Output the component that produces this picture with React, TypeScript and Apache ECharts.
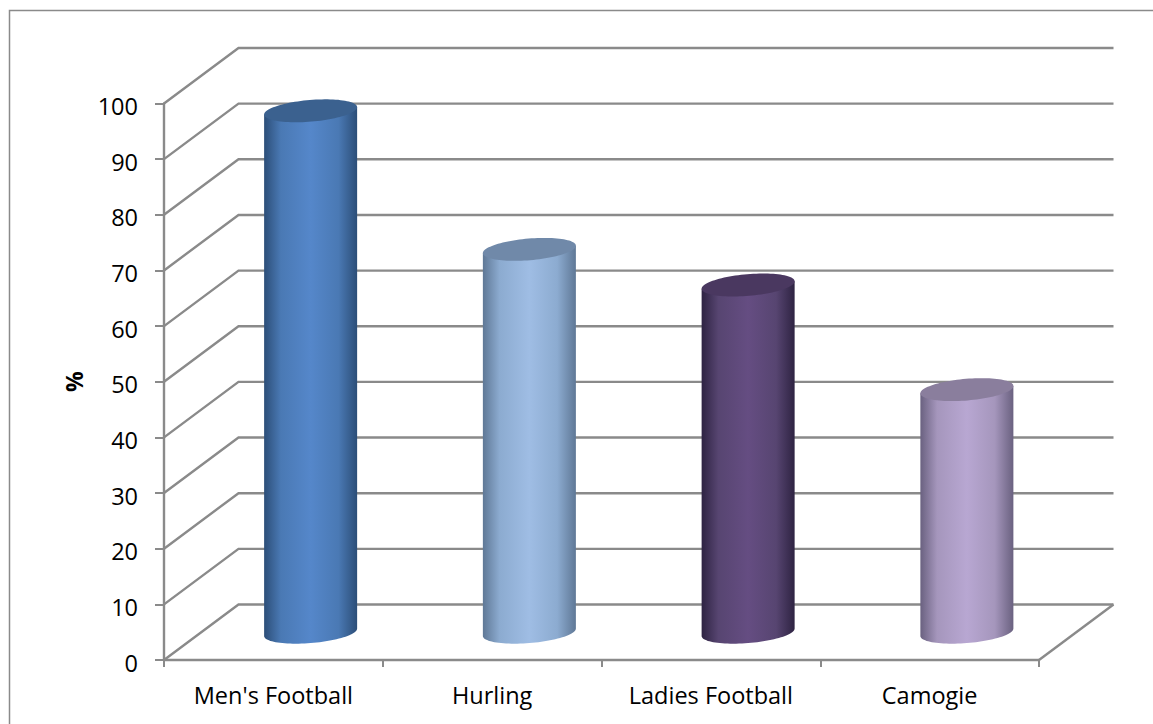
import React, { useEffect, useRef } from "react";
import * as echarts from "echarts";

// Share of respondents per Gaelic game, drawn as 3-D style cylinders on a box.
const categories = ["Men's Football", "Hurling", "Ladies Football", "Camogie"];
const percentages = [93.7, 68.8, 62.4, 43.6];
const yTicks = [0, 10, 20, 30, 40, 50, 60, 70, 80, 90, 100];

// [edge, mid, centre, top cap]
const palette = [
  ["#2c4e78", "#4a79b4", "#5587ca", "#3b618f"],
  ["#5f7896", "#8cabd0", "#9fbde4", "#7089a9"],
  ["#2e2342", "#574571", "#654d82", "#4a3860"],
  ["#6a6180", "#a596bc", "#b8a7d2", "#8a7e9d"],
];

// Offset from the front of the box to its back wall.
const DEPTH_X = 74.5;
const DEPTH_Y = 55.5;
const GRID_COLOR = "#8a8a8a";
const FONT = "'Open Sans', Lato, sans-serif";
const CAP_STEPS = 48;

function renderGridLine(params: any, api: any) {
  const cs = params.coordSys;
  const value = api.value(1);
  const y = api.coord([0, value])[1];
  const left = cs.x;
  const right = cs.x + cs.width;
  const children: any[] = [
    {
      type: "polyline",
      shape: {
        points: [
          [left, y],
          [left + DEPTH_X, y - DEPTH_Y],
          [right + DEPTH_X, y - DEPTH_Y],
        ],
      },
      style: { stroke: GRID_COLOR, lineWidth: 2.4, fill: "none" },
    },
  ];
  if (value === 0) {
    children.push({
      type: "line",
      shape: { x1: right, y1: y, x2: right + DEPTH_X, y2: y - DEPTH_Y },
      style: { stroke: GRID_COLOR, lineWidth: 2.4 },
    });
  }
  return { type: "group", children };
}

function renderCylinder(params: any, api: any) {
  const idx = api.value(0);
  const base = api.coord([idx, 0]);
  const top = api.coord([idx, api.value(1)]);
  const band = api.size([1, 0])[0];
  const cx = base[0] + DEPTH_X / 2;
  const baseY = base[1] - DEPTH_Y / 2;
  const topY = top[1] - DEPTH_Y / 2;

  // Tilted elliptical cross-section of the cylinder.
  const a = band * 0.2133;
  const b = a * 0.232;
  const tilt = (-4.8 * Math.PI) / 180;
  const rim = (t: number, cy: number) => [
    cx + a * Math.cos(t) * Math.cos(tilt) - b * Math.sin(t) * Math.sin(tilt),
    cy + a * Math.cos(t) * Math.sin(tilt) + b * Math.sin(t) * Math.cos(tilt),
  ];
  // Parameter at which the straight sides touch the rim.
  const t0 = Math.atan2(-b * Math.sin(tilt), a * Math.cos(tilt));

  const lowerRim: number[][] = [];
  const lid: number[][] = [];
  for (let i = 0; i <= CAP_STEPS; i++) {
    lowerRim.push(rim(t0 + (Math.PI * i) / CAP_STEPS, baseY));
  }
  for (let i = 0; i < CAP_STEPS * 2; i++) {
    lid.push(rim((Math.PI * i) / CAP_STEPS, topY));
  }
  const body = [...lowerRim, rim(t0 + Math.PI, topY), rim(t0, topY)];
  const [edge, mid, centre, cap] = palette[params.dataIndex];

  return {
    type: "group",
    children: [
      {
        type: "polygon",
        shape: { points: body },
        style: {
          fill: new echarts.graphic.LinearGradient(0, 0, 1, 0, [
            { offset: 0, color: edge },
            { offset: 0.18, color: mid },
            { offset: 0.5, color: centre },
            { offset: 0.8, color: mid },
            { offset: 1, color: edge },
          ]),
        },
      },
      { type: "polygon", shape: { points: lid }, style: { fill: cap } },
    ],
  };
}

export default function App() {
  const ref = useRef<HTMLDivElement>(null);

  useEffect(() => {
    const chart = echarts.init(ref.current!, undefined, { renderer: "svg" });
    chart.setOption({
      animation: false,
      backgroundColor: "#ffffff",
      grid: { left: 164, right: 114, top: 103.5, bottom: 64 },
      xAxis: {
        type: "category",
        data: categories,
        axisLine: { show: true, onZero: false, lineStyle: { color: GRID_COLOR, width: 2.4 } },
        axisTick: { show: true, alignWithLabel: false, length: 7, lineStyle: { color: GRID_COLOR, width: 2 } },
        axisLabel: { color: "#000000", fontFamily: FONT, fontSize: 23.5, margin: 22.5 },
        splitLine: { show: false },
      },
      yAxis: {
        type: "value",
        min: 0,
        max: 100,
        interval: 10,
        name: "%",
        nameLocation: "middle",
        nameGap: 79,
        nameTextStyle: { color: "#000000", fontFamily: FONT, fontSize: 23, fontWeight: "bold" },
        axisLine: { show: true, onZero: false, lineStyle: { color: GRID_COLOR, width: 2.4 } },
        axisTick: { show: true, length: 9, lineStyle: { color: GRID_COLOR, width: 2 } },
        axisLabel: {
          color: "#000000",
          fontFamily: FONT,
          fontSize: 23.5,
          margin: 26,
          verticalAlign: "top",
          lineHeight: 5,
        },
        splitLine: { show: false },
      },
      series: [
        {
          type: "custom",
          renderItem: renderGridLine,
          data: yTicks.map((v) => [0, v]),
          encode: { x: 0, y: 1 },
          z: 1,
          silent: true,
        },
        {
          type: "custom",
          renderItem: renderCylinder,
          data: percentages.map((v, i) => [i, v]),
          encode: { x: 0, y: 1 },
          z: 3,
          silent: true,
        },
      ],
      graphic: [
        {
          type: "polyline",
          shape: { points: [[9.5, 724], [9.5, 10.5], [1153, 10.5]] },
          style: { stroke: "#8a8a8a", lineWidth: 1.5, fill: "none" },
          silent: true,
        },
      ],
    });
    return () => chart.dispose();
  }, []);

  return (
    <div
      ref={ref}
      style={{ position: "absolute", left: 0, top: 0, width: 1153, height: 724 }}
    />
  );
}
